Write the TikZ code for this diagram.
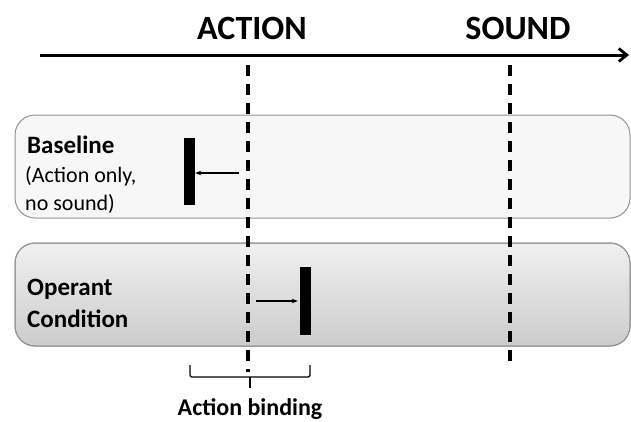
\documentclass[tikz,border=0pt]{standalone}
\usepackage{fontspec}
\setmainfont{Carlito}
\usetikzlibrary{arrows.meta,decorations.pathreplacing}
\begin{document}
\begin{tikzpicture}[x=1pt,y=-1pt,
  dashline/.style={line width=3.6pt,dash pattern=on 11pt off 8pt},
  panel/.style={rounded corners=20pt,draw=gray!85,line width=1pt},
  bar/.style={fill=black,draw=none,minimum width=11pt,inner sep=0pt},
  lab/.style={anchor=west,align=left,inner sep=0pt},
  head/.style={font=\bfseries\fontsize{34}{38}\selectfont,inner sep=0pt},
  small/.style={-{Stealth[length=6pt,width=4.5pt]},line width=1.1pt}]
\useasboundingbox (0,0) rectangle (631,421);
\fill[white] (0,0) rectangle (631,421);
% panels
\draw[panel,fill=gray!6] (15,115) rectangle (630,218);
\shade[panel,top color=gray!12,bottom color=gray!40] (15,243) rectangle (630,346);
\draw[panel] (15,243) rectangle (630,346);
% timeline
\coordinate (t0) at (40,55);
\coordinate (t1) at (631,55);
\draw[line width=3pt,-{Straight Barb[length=8pt,width=13pt,line width=2.8pt]}] (t0) -- ([xshift=-2pt]t1);
\node[head] (action) at (252,28) {ACTION};
\node[head] (sound) at (518,28) {SOUND};
% dashed lines
\coordinate (a0) at (248,65); \coordinate (a1) at (248,372);
\coordinate (s0) at (510,65); \coordinate (s1) at (510,366);
\draw[dashline] (a0) -- (a1);
\draw[dashline] (s0) -- (s1);
% baseline
\node[lab,font=\bfseries\fontsize{25}{28}\selectfont] (bl) at (27,145) {Baseline};
\node[lab,font=\fontsize{22}{28}\selectfont] (bl2) at (25,190) {(Action only,\\no sound)};
\node[bar,minimum height=67pt] (bar1) at (189.5,171.5) {};
\coordinate (b1s) at (239,173);
\draw[small] (b1s) -- (bar1.east |- b1s);
% operant
\node[lab,font=\bfseries\fontsize{25}{32}\selectfont] (op) at (27,303) {Operant\\Condition};
\node[bar,minimum height=68pt] (bar2) at (305.5,301) {};
\coordinate (b2s) at (256,301);
\draw[small] (b2s) -- ([xshift=-2pt]bar2.west |- b2s);
% bracket
\coordinate (k0) at (190,365); \coordinate (k1) at (310,365);
\coordinate (km) at (250,377); \coordinate (kt) at (250,388);
\draw[line width=1.3pt,rounded corners=2pt] (k0) -- (190,377) -- (310,377) -- (k1);
\draw[line width=1.3pt] (km) -- (kt);
\node[font=\bfseries\fontsize{24}{28}\selectfont,inner sep=0pt] (ab) at (250,409) {Action binding};
\end{tikzpicture}
\end{document}
